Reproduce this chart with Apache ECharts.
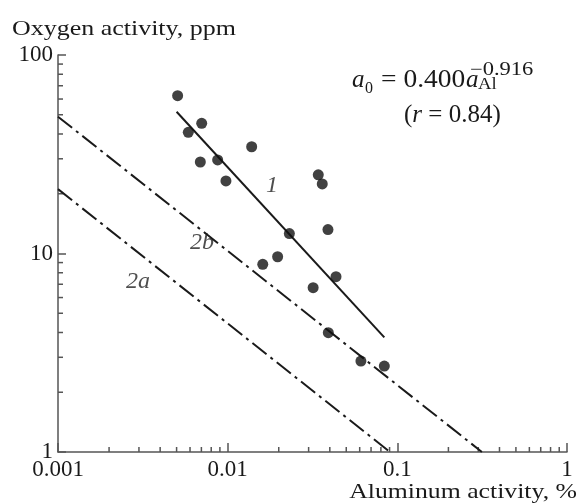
<!DOCTYPE html>
<html><head><meta charset="utf-8">
<script src="https://cdn.jsdelivr.net/npm/echarts@6/dist/echarts.min.js"></script>
<style>html,body{margin:0;padding:0;background:#fff}#c{width:578px;height:504px}</style>
</head><body><div id="c"></div>
<script>
// measured data points (aluminum activity %, oxygen activity ppm)
const pointsX = [0.00507, 0.00703, 0.00586, 0.01385, 0.00690, 0.00873, 0.00977, 0.0342, 0.0361,
                 0.0390, 0.0231, 0.0197, 0.0161, 0.0435, 0.0319, 0.0392, 0.0610, 0.0838];
const pointsY = [62.4, 45.3, 40.8, 34.5, 28.9, 29.6, 23.2, 24.9, 22.4,
                 13.2, 12.6, 9.63, 8.82, 7.64, 6.73, 3.99, 2.87, 2.71];
// regression line 1 and lines 2a, 2b (end points)
const line1X = [0.0050, 0.0838];
const line1Y = [51.8, 3.78];
const line2bX = [0.001, 0.315];
const line2bY = [48.9, 1];
const line2aX = [0.001, 0.0905];
const line2aY = [21.1, 1];
// curve labels
const curveNames = ['1', '2b', '2a'];
const curveLabelX = [0.01825, 0.00706, 0.00296];
const curveLabelY = [21.9, 11.3, 7.18];
// ticks
const xTickValues = [0.001, 0.01, 0.1, 1];
const xTickLabels = ['0.001', '0.01', '0.1', '1'];
const yTickValues = [1, 10, 100];
const yTickLabels = ['1', '10', '100'];
const minorMultipliers = [2, 3, 4, 5, 6, 7, 8, 9];
const xDecades = [0.001, 0.01, 0.1];
const yDecades = [1, 10];

const FONT = '"Liberation Serif", "Times New Roman", serif';
const INK = '#1a1a1a';
const AXIS = '#555';
const DASHDOT = [18, 5, 3, 5];

function pick(values, labels, v) {
  const i = values.findIndex(t => Math.abs(Math.log10(t) - Math.log10(v)) < 1e-6);
  return i >= 0 ? labels[i] : '';
}
const zip = (a, b) => a.map((v, i) => [v, b[i]]);

const xMinor = [], yMinor = [];
xDecades.forEach(d => minorMultipliers.forEach(m => xMinor.push([d * m, yTickValues[0]])));
yDecades.forEach(d => minorMultipliers.forEach(m => yMinor.push([xTickValues[0], d * m])));

function minorTickSeries(data, dir) {
  return {
    type: 'custom', data: data, silent: true, clip: false, z: 1,
    renderItem: function (params, api) {
      const p = api.coord([api.value(0), api.value(1)]);
      const len = 5;
      return {
        type: 'line',
        shape: dir === 'x' ? {x1: p[0], y1: p[1], x2: p[0], y2: p[1] - len}
                           : {x1: p[0], y1: p[1], x2: p[0] + len, y2: p[1]},
        style: {stroke: AXIS, lineWidth: 1.5}
      };
    }
  };
}

function txt(x, y, text, font, opts) {
  opts = opts || {};
  return {
    type: 'text', x: x, y: y, scaleX: opts.scaleX || 1, scaleY: 1,
    style: Object.assign({text: text, font: font, fill: INK, textAlign: opts.align || 'left',
                          textVerticalAlign: 'middle'}, opts.style || {})
  };
}

const chart = echarts.init(document.getElementById('c'), null, {renderer: 'canvas'});
chart.setOption({
  backgroundColor: '#fff',
  animation: false,
  grid: {left: 58, right: 11, top: 55, bottom: 52, containLabel: false},
  xAxis: {
    type: 'log', logBase: 10, min: 0.001, max: 1,
    axisLine: {show: true, onZero: false, lineStyle: {color: AXIS, width: 1.5}},
    axisTick: {show: true, inside: true, length: 9, lineStyle: {color: AXIS, width: 1.5}},
    splitLine: {show: false},
    axisLabel: {
      show: true, margin: 6, fontFamily: FONT, fontSize: 23, color: INK,
      showMinLabel: true, showMaxLabel: true,
      formatter: v => pick(xTickValues, xTickLabels, v)
    }
  },
  yAxis: {
    type: 'log', logBase: 10, min: 1, max: 100,
    axisLine: {show: true, onZero: false, lineStyle: {color: AXIS, width: 1.5}},
    axisTick: {show: true, inside: true, length: 8, lineStyle: {color: AXIS, width: 1.5}},
    splitLine: {show: false},
    axisLabel: {
      show: true, margin: 5, fontFamily: FONT, fontSize: 23, color: INK,
      showMinLabel: true, showMaxLabel: true,
      formatter: v => pick(yTickValues, yTickLabels, v)
    }
  },
  series: [
    minorTickSeries(xMinor, 'x'),
    minorTickSeries(yMinor, 'y'),
    {type: 'line', data: zip(line2aX, line2aY), symbol: 'none', silent: true,
     lineStyle: {color: INK, width: 2, type: DASHDOT}},
    {type: 'line', data: zip(line2bX, line2bY), symbol: 'none', silent: true,
     lineStyle: {color: INK, width: 2, type: DASHDOT}},
    {type: 'line', data: zip(line1X, line1Y), symbol: 'none', silent: true,
     lineStyle: {color: INK, width: 2, type: 'solid'}},
    {type: 'scatter', data: zip(pointsX, pointsY), symbol: 'circle', symbolSize: 11,
     itemStyle: {color: '#111'}, z: 5},
    {type: 'scatter', symbolSize: 0, silent: true,
     data: curveNames.map((n, i) => ({name: n, value: [curveLabelX[i], curveLabelY[i]]})),
     label: {show: true, position: 'inside', formatter: p => p.name,
             fontFamily: FONT, fontStyle: 'italic', fontSize: 24, color: '#222'}}
  ],
  graphic: [
    txt(12, 29, 'Oxygen activity, ppm', '22px ' + FONT, {scaleX: 1.18}),
    txt(577, 492, 'Aluminum activity, %', '22px ' + FONT, {scaleX: 1.17, align: 'right'}),
    txt(352, 80, 'a', 'italic 25px ' + FONT),
    txt(365, 89, '0', '16px ' + FONT),
    txt(381, 80, '= 0.400', '25px ' + FONT, {scaleX: 1.1}),
    txt(466, 80, 'a', 'italic 25px ' + FONT),
    txt(478, 85, 'Al', '17px ' + FONT, {scaleX: 1.1}),
    txt(470, 70, '\u22120.916', '18px ' + FONT, {scaleX: 1.25}),
    txt(404, 115, '({i|r} = 0.84)', '25px ' + FONT,
        {style: {rich: {i: {fontFamily: FONT, fontStyle: 'italic', fontSize: 25, fill: INK}}}})
  ]
});
</script>
</body></html>
